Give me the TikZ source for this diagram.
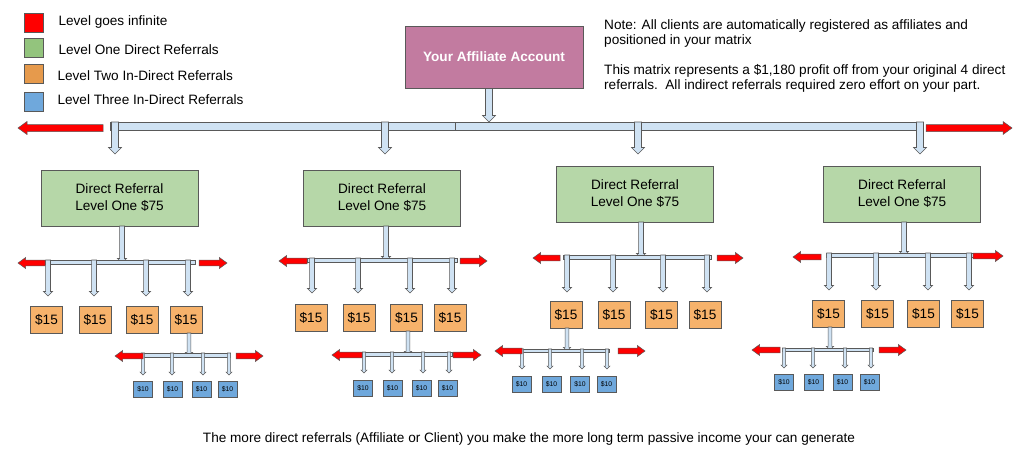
\documentclass[tikz,border=0pt]{standalone}
\usepackage{fontspec}
\setmainfont{Liberation Sans}
\usepackage{xcolor}
\usetikzlibrary{arrows.meta,positioning,calc}

\definecolor{acctpink}{HTML}{C27BA0}
\definecolor{lvlgreen}{HTML}{B6D7A8}
\definecolor{lvlorange}{HTML}{F6B26B}
\definecolor{lvlblue}{HTML}{6FA8DC}
\definecolor{leggreen}{HTML}{93C47D}
\definecolor{legorange}{HTML}{E69A4C}
\definecolor{connblue}{HTML}{CFE2F3}
\definecolor{edgegray}{HTML}{595959}

% block arrow pointing down: [size]{x}{top}{tip}
\newcommand{\barrow}[4][1]{%
  \draw[conn] ({#2-3.5*#1},#3) -- ({#2+3.5*#1},#3) -- ({#2+3.5*#1},{#4-6.5*#1})
    -- ({#2+6.5*#1},{#4-6.5*#1}) -- (#2,#4) -- ({#2-6.5*#1},{#4-6.5*#1})
    -- ({#2-3.5*#1},{#4-6.5*#1}) -- cycle;}
% red sideways arrow: [size]{tail}{tip}{y}
\newcommand{\rarrow}[4][1]{%
  \draw[infarr] (#2,{#4-3.5*#1}) -- ({#3-9*#1*sign(#3-#2)},{#4-3.5*#1})
    -- ({#3-9*#1*sign(#3-#2)},{#4-6.5*#1}) -- (#3,#4)
    -- ({#3-9*#1*sign(#3-#2)},{#4+6.5*#1}) -- ({#3-9*#1*sign(#3-#2)},{#4+3.5*#1})
    -- (#2,{#4+3.5*#1}) -- cycle;}

\begin{document}
\begin{tikzpicture}[x=1pt, y=-1pt, font=\fontsize{13.6}{16}\selectfont]
  \tikzset{
    conn/.style={draw=edgegray, fill=connblue, line width=0.6pt},
    infarr/.style={draw=edgegray, fill=red, line width=0.5pt},
    legbox/.style={draw=edgegray, minimum size=19pt, inner sep=0pt},
    acct/.style={draw=edgegray, fill=acctpink, minimum width=178pt, minimum height=62pt, text=white, font=\fontsize{13.6}{16}\selectfont\bfseries},
    directbox/.style={draw=edgegray, fill=lvlgreen, minimum width=157pt, minimum height=56pt, align=center, font=\fontsize{13.6}{17}\selectfont},
    twobox/.style={draw=edgegray, fill=lvlorange, minimum width=32pt, minimum height=27pt, inner sep=0pt, font=\fontsize{13.6}{16}\selectfont},
    threebox/.style={draw=edgegray, fill=lvlblue, minimum width=19pt, minimum height=16pt, inner sep=0pt, font=\fontsize{6.8}{8}\selectfont}
  }
  \useasboundingbox[fill=white] (0,0) rectangle (1024,460);

  % legend
  \node[legbox, fill=red] (leg1) at (33.5,22.5) {};
  \node[legbox, fill=leggreen] (leg2) at (33.5,47.5) {};
  \node[legbox, fill=legorange] (leg3) at (33.5,74) {};
  \node[legbox, fill=lvlblue] (leg4) at (33.5,101.5) {};
  \node[anchor=west] (legt1) at (55,22) {Level goes infinite};
  \node[anchor=west] (legt2) at (55,50) {Level One Direct Referrals};
  \node[anchor=west] (legt3) at (54,76) {Level Two In-Direct Referrals};
  \node[anchor=west] (legt4) at (54,100) {Level Three In-Direct Referrals};

  % note
  \node[anchor=north west, align=left, inner sep=0pt, font=\fontsize{13.6}{15.5}\selectfont] (note1) at (604,19)
    {Note: All clients are automatically registered as affiliates and\\positioned in your matrix};
  \node[anchor=north west, align=left, inner sep=0pt, font=\fontsize{13.6}{15.5}\selectfont] (note2) at (604,64)
    {This matrix represents a \$1,180 profit off from your original 4 direct\\referrals.\ \ All indirect referrals required zero effort on your part.};

  % account and top level bar
  \node[acct] (acc) at (494,57) {Your Affiliate Account};
  \barrow{489}{88.5}{122}
  \draw[conn] (110,122) rectangle (455,130);
  \draw[conn] (455,122) rectangle (923,130);
  \foreach \x in {115,385,638,920} \barrow{\x}{122}{154};
  \rarrow{103}{18}{128}
  \rarrow{926}{1012}{128}

  % level one
  \node[directbox] (d1) at (119.5,198) {Direct Referral\\Level One \$75};
  \node[directbox] (d2) at (382,198) {Direct Referral\\Level One \$75};
  \node[directbox] (d3) at (635,194) {Direct Referral\\Level One \$75};
  \node[directbox] (d4) at (902,194) {Direct Referral\\Level One \$75};

  % group 1
  \barrow[0.7]{122}{226}{263}
  \draw[conn] (45,260) rectangle (195,264);
  \foreach \x in {48,94,146,188} \barrow[0.7]{\x}{260}{296};
  \rarrow[0.85]{45}{18}{263}
  \rarrow[0.85]{199}{227}{263}
  \foreach \x/\n in {46.5/1,95/2,142/3,186/4} \node[twobox] (o1\n) at (\x,319.5) {\$15};
  \barrow[0.55]{189}{333}{356}
  \draw[conn] (143,353) rectangle (230,357);
  \foreach \x in {143,172,203,229} \barrow[0.45]{\x}{353}{375};
  \rarrow[0.85]{143}{115}{356}
  \rarrow[0.85]{236}{263}{356}
  \foreach \x/\n in {143/1,172.5/2,201.5/3,227.5/4} \node[threebox] (t1\n) at (\x,389) {\$10};

  % group 2
  \barrow[0.7]{386}{226}{261}
  \draw[conn] (307,258) rectangle (457,262);
  \foreach \x in {312,358,410,452} \barrow[0.7]{\x}{258}{293};
  \rarrow[0.85]{307}{279}{261}
  \rarrow[0.85]{460}{487}{261}
  \foreach \x/\n in {311/1,359/2,406.5/3,450/4} \node[twobox] (o2\n) at (\x,317.5) {\$15};
  \barrow[0.55]{408}{331}{355}
  \draw[conn] (362,352) rectangle (452,356);
  \foreach \x in {364,392,423,449} \barrow[0.45]{\x}{352}{373};
  \rarrow[0.85]{362}{332}{355}
  \rarrow[0.85]{453}{481}{355}
  \foreach \x/\n in {363/1,392.5/2,421.5/3,447.5/4} \node[threebox] (t2\n) at (\x,388) {\$10};

  % group 3
  \barrow[0.7]{641}{222}{258}
  \draw[conn] (563,255) rectangle (711,259);
  \foreach \x in {567,613,663,707} \barrow[0.7]{\x}{255}{292};
  \rarrow[0.85]{560}{533}{258}
  \rarrow[0.85]{717}{743}{258}
  \foreach \x/\n in {566/1,614/2,661.5/3,705/4} \node[twobox] (o3\n) at (\x,314.5) {\$15};
  \barrow[0.55]{567}{328}{351}
  \draw[conn] (522,349) rectangle (609,352);
  \foreach \x in {522,550,582,607} \barrow[0.45]{\x}{349}{369};
  \rarrow[0.85]{522}{495}{351}
  \rarrow[0.85]{618}{645}{351}
  \foreach \x/\n in {521.5/1,551.5/2,580/3,606.5/4} \node[threebox] (t3\n) at (\x,384) {\$10};

  % group 4
  \barrow[0.7]{904}{222}{256}
  \draw[conn] (826,253) rectangle (973,257);
  \foreach \x in {829,876,928,969} \barrow[0.7]{\x}{253}{290};
  \rarrow[0.85]{821}{793}{257}
  \rarrow[0.85]{973}{1003}{256}
  \foreach \x/\n in {828.5/1,877.5/2,923.5/3,967.5/4} \node[twobox] (o4\n) at (\x,313.5) {\$15};
  \barrow[0.55]{830}{327}{350}
  \draw[conn] (782,348) rectangle (873,351);
  \foreach \x in {784,813,845,871} \barrow[0.45]{\x}{348}{368};
  \rarrow[0.85]{780}{752}{350}
  \rarrow[0.85]{879}{906}{350}
  \foreach \x/\n in {784/1,813.5/2,842.5/3,869.5/4} \node[threebox] (t4\n) at (\x,382.5) {\$10};

  \node (foot) at (529,439) {The more direct referrals (Affiliate or Client) you make the more long term passive income your can generate};
\end{tikzpicture}
\end{document}
